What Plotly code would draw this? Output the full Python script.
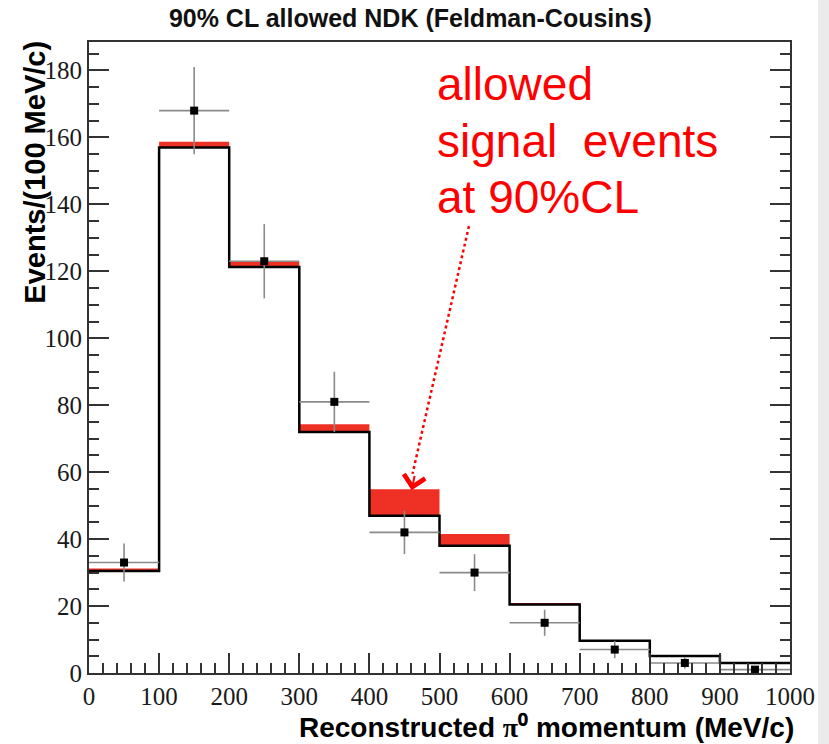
import plotly.graph_objects as go

# Binning of the reconstructed pi0 momentum (MeV/c)
bin_edges = [0, 100, 200, 300, 400, 500, 600, 700, 800, 900, 1000]
bin_centers = [50, 150, 250, 350, 450, 550, 650, 750, 850, 950]

# Expected background (black histogram)
background = [30.5, 157.0, 121.3, 72.0, 47.0, 38.0, 20.5, 9.6, 5.1, 3.0]
# Allowed signal at 90% CL stacked on top of the background (red band)
signal = [0.7, 1.7, 1.5, 2.3, 7.9, 3.5, 0.4, 0.0, 0.0, 0.0]

# Observed data with Poisson errors
data_counts = [33, 168, 123, 81, 42, 30, 15, 7, 3, 1]
data_errors = [5.7, 13.0, 11.1, 9.0, 6.5, 5.5, 3.9, 2.6, 1.7, 1.0]
bin_half_width = [50] * 10

x_ticks = [0, 100, 200, 300, 400, 500, 600, 700, 800, 900, 1000]
y_ticks = [0, 20, 40, 60, 80, 100, 120, 140, 160, 180]

RED_FILL = "#ee3124"
AXIS_COL = "#333333"
SERIF = "Liberation Serif"
SANS = "Liberation Sans"

fig = go.Figure()

# Red signal band between background and background + signal
fig.add_trace(go.Bar(
    x=bin_centers, y=signal, base=background, width=100,
    marker=dict(color=RED_FILL, line=dict(width=0)),
    showlegend=False, hoverinfo="skip",
))

# Background histogram outline
fig.add_trace(go.Scatter(
    x=bin_edges, y=background + [background[-1]],
    mode="lines", line=dict(color="black", width=2.5, shape="hv"),
    showlegend=False, hoverinfo="skip",
))

# Data points with error bars
fig.add_trace(go.Scatter(
    x=bin_centers, y=data_counts, mode="markers",
    marker=dict(symbol="square", size=8, color="black"),
    error_y=dict(type="data", array=data_errors, color="#8a8a8a",
                 thickness=1.6, width=0),
    error_x=dict(type="data", array=bin_half_width, color="#8a8a8a",
                 thickness=1.6, width=0),
    showlegend=False,
))

axis_common = dict(
    showline=True, linecolor=AXIS_COL, linewidth=2,
    ticks="inside", ticklen=20, tickwidth=2, tickcolor=AXIS_COL,
    showgrid=False, zeroline=False,
    tickfont=dict(family=SERIF, size=25, color="#1a1a1a"),
)

# x axis: ticks only at the bottom, plain frame line on top
fig.update_xaxes(
    range=[0, 1000], tickvals=x_ticks, ticktext=[str(v) for v in x_ticks],
    mirror=True,
    minor=dict(dtick=20, ticklen=10, tickwidth=2, tickcolor=AXIS_COL,
               ticks="inside", showgrid=False),
    **axis_common,
)
# y axis: ticks on both the left and right sides
fig.update_yaxes(
    range=[0, 188.5], tickvals=y_ticks, ticktext=[str(v) for v in y_ticks],
    mirror="ticks",
    minor=dict(dtick=5, ticklen=10, tickwidth=2, tickcolor=AXIS_COL,
               ticks="inside", showgrid=False),
    **axis_common,
)

annotations = [
    # Axis titles
    dict(text="<b>Reconstructed <span style=\"font-family:Liberation Serif\">π</span>"
              "⁰ momentum (MeV/c)</b>",
         xref="paper", yref="paper", x=1.008, y=-0.0856,
         xanchor="right", yanchor="middle", showarrow=False,
         font=dict(family=SANS, size=28, color="black")),
    dict(text="<b>Events/(100 MeV/c)</b>", textangle=-90,
         xref="paper", yref="paper", x=-0.077, y=0.793,
         xanchor="center", yanchor="middle", showarrow=False,
         font=dict(family=SANS, size=29, color="black")),
]

# Red explanatory text
note_lines = ["allowed", "signal\u00a0 events", "at 90%CL"]
note_y = [0.9334, 0.8431, 0.7544]
for line, yy in zip(note_lines, note_y):
    annotations.append(dict(
        text=line, xref="paper", yref="paper", x=0.4935, y=yy,
        xanchor="left", yanchor="middle", showarrow=False, align="left",
        font=dict(family=SANS, size=46, color="#ff0000"),
    ))

# Arrowhead pointing at the allowed signal band
annotations.append(dict(
    text="", x=460.3, y=54.6, xref="x", yref="y",
    ax=3.2, ay=-15.7, axref="pixel", ayref="pixel",
    showarrow=True, arrowhead=4, arrowsize=2.1, arrowwidth=2,
    arrowcolor="#ff0000", standoff=0,
))

shapes = [
    # Dotted arrow shaft
    dict(type="line", xref="x", yref="y", x0=542, y0=133.5, x1=461.5, y1=59.5,
         line=dict(color="#ff0000", width=2.5, dash="dot")),
    # Light grey page edge on the right
    dict(type="rect", xref="paper", yref="paper", x0=1.040, x1=1.06,
         y0=-0.2, y1=1.2, fillcolor="#ebebeb", line=dict(width=0),
         layer="below"),
]

fig.update_layout(
    width=829, height=744,
    margin=dict(l=89, r=39, t=42, b=71),
    paper_bgcolor="white", plot_bgcolor="white",
    barmode="overlay",
    title=dict(text="<b>90% CL allowed NDK (Feldman-Cousins)</b>",
               xref="container", yref="container", x=0.495, y=0.976,
               xanchor="center", yanchor="middle",
               font=dict(family=SANS, size=25, color="#111111")),
    annotations=annotations,
    shapes=shapes,
)

fig.write_html("out.html")
